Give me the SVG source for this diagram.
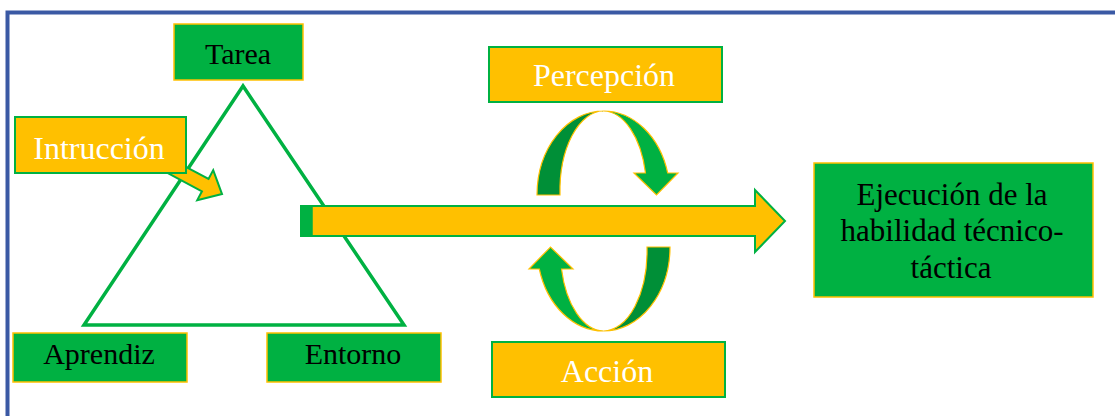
<svg xmlns="http://www.w3.org/2000/svg" width="1115" height="416" viewBox="0 0 1115 416">
  <style>
    .green { fill: #00B142; stroke: #FFC000; stroke-width: 1.5; }
    .gold { fill: #FFC000; stroke: #00B142; stroke-width: 2; }
    .dark { fill: #008F37; stroke: #FFC000; stroke-width: 1.2; }
    .light { fill: #00B142; stroke: #FFC000; stroke-width: 1.2; }
    .lbl { font-family: "Liberation Serif", "Times New Roman", serif; text-anchor: middle; }
    .blk { fill: #000; font-size: 30px; }
    .big { font-size: 31px; }
    .wht { fill: #fff; font-size: 32px; }
  </style>

  <rect width="1115" height="416" fill="#fff"/>
  <!-- outer frame (open at right and bottom) -->
  <path d="M1120,12.5 H7.5 V420" fill="none" stroke="#3A59A4" stroke-width="4"/>

  <!-- triangle of task / learner / environment -->
  <g id="triangle">
    <polygon points="243,86 84,325 404,325" fill="none" stroke="#00B142" stroke-width="3.5" stroke-linejoin="miter"/>
  </g>

  <g id="connectors">
    <!-- instruction arrow -->
    <path transform="translate(165.5,164) rotate(28)" class="gold" stroke-width="1.5"
          d="M0,-7 H45 V-17 L64,0 L45,17 V7 H0 Z"/>
    <!-- main arrow to execution -->
    <path class="gold" d="M301,206 H755 V190 L785,221 L755,252 V236 H301 Z"/>
    <rect x="301" y="206" width="11" height="30" fill="#00B142" stroke="#00B142" stroke-width="1.5"/>
    <!-- perception cycle, upper arrow -->
    <g id="cycle-top">
      <path class="dark" d="M537,195 A66.5,84 0 0 1 603.5,111 A43.5,80 0 0 0 560,195 Z"/>
      <path class="light" d="M603.5,111 A66.5,84 0 0 1 667.7,173 L678,173 L656.5,195 L634,173 L645.5,173 A43.5,80 0 0 0 603.5,111 Z"/>
    </g>
    <!-- action cycle, lower arrow -->
    <g id="cycle-bottom" transform="rotate(180 603.5 221)">
      <path class="dark" d="M537,195 A66.5,84 0 0 1 603.5,111 A43.5,80 0 0 0 560,195 Z"/>
      <path class="light" d="M603.5,111 A66.5,84 0 0 1 667.7,173 L678,173 L656.5,195 L634,173 L645.5,173 A43.5,80 0 0 0 603.5,111 Z"/>
    </g>
  </g>

  <g id="tarea">
    <rect class="green" x="174" y="24" width="129" height="56"/>
    <text class="lbl blk" x="238" y="64">Tarea</text>
  </g>

  <g id="intruccion">
    <rect class="gold" x="15" y="117" width="171" height="56"/>
    <text class="lbl wht" x="99" y="159">Intrucción</text>
  </g>

  <g id="aprendiz">
    <rect class="green" x="13" y="333" width="174" height="49"/>
    <text class="lbl blk" x="99" y="364">Aprendiz</text>
  </g>

  <g id="entorno">
    <rect class="green" x="267" y="333" width="174" height="49"/>
    <text class="lbl blk" x="353" y="364">Entorno</text>
  </g>

  <g id="percepcion">
    <rect class="gold" x="489" y="47" width="233" height="55"/>
    <text class="lbl wht" x="604" y="86">Percepción</text>
  </g>

  <g id="accion">
    <rect class="gold" x="492" y="342" width="233" height="55"/>
    <text class="lbl wht" x="607" y="382">Acción</text>
  </g>

  <g id="ejecucion">
    <rect class="green" x="814" y="163" width="279" height="134"/>
    <text class="lbl blk big" x="952" y="205">Ejecución de la</text>
    <text class="lbl blk big" x="952" y="241">habilidad técnico-</text>
    <text class="lbl blk big" x="951" y="278">táctica</text>
  </g>
</svg>
